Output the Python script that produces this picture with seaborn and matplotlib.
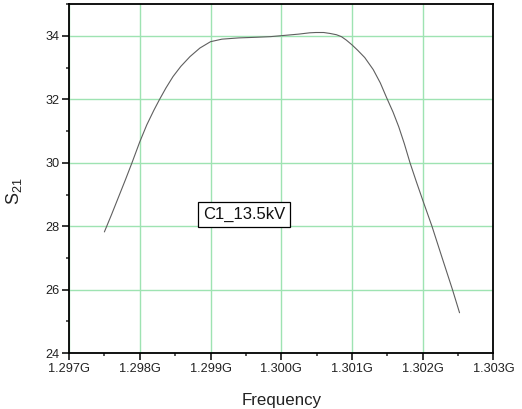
import numpy as np
import pandas as pd
import matplotlib
matplotlib.use("Agg")
import matplotlib.pyplot as plt
from matplotlib.ticker import MultipleLocator, FuncFormatter
import seaborn as sns

# Data (frequency in GHz, S21)
freq = [1.29750, 1.29760, 1.29770, 1.29780, 1.29789, 1.29800, 1.29810, 1.29820,
        1.29828, 1.29837, 1.29847, 1.29858, 1.29871, 1.29885, 1.29900, 1.29916,
        1.29940, 1.29965, 1.29985, 1.30000, 1.30025, 1.30040, 1.30049, 1.30060,
        1.30069, 1.30078, 1.30085, 1.30092, 1.30100, 1.30108, 1.30118, 1.30130,
        1.30140, 1.30149, 1.30158, 1.30166, 1.30174, 1.30182, 1.30191, 1.30200,
        1.30213, 1.30227, 1.30242, 1.30252]
s21 = [27.82, 28.36, 28.92, 29.48, 30.00, 30.66, 31.20, 31.66,
       32.00, 32.36, 32.72, 33.04, 33.35, 33.62, 33.82, 33.90,
       33.94, 33.96, 33.98, 34.01, 34.06, 34.10, 34.11, 34.11,
       34.08, 34.04, 33.98, 33.87, 33.72, 33.55, 33.32, 32.94,
       32.52, 32.05, 31.60, 31.14, 30.60, 30.00, 29.40, 28.82,
       28.00, 27.03, 26.00, 25.27]
label_text = "C1_13.5kV"
x_label = "Frequency"
y_label = r"$\mathregular{S_{21}}$"

df = pd.DataFrame({"freq": freq, "s21": s21})

sns.set_style("white")
plt.rcParams["font.family"] = ["Liberation Sans", "DejaVu Sans"]
plt.rcParams["mathtext.fontset"] = "custom"
plt.rcParams["mathtext.rm"] = "Liberation Sans"

fig = plt.figure(figsize=(5.22, 4.09), dpi=100)
ax = fig.add_axes([0.1322, 0.1369, 0.9454 - 0.1322, 0.9895 - 0.1369])

sns.lineplot(data=df, x="freq", y="s21", ax=ax, color="#5f5f5f", linewidth=0.8)

ax.set_xlim(1.297, 1.303)
ax.set_ylim(24, 35)
ax.xaxis.set_major_locator(MultipleLocator(0.001))
ax.xaxis.set_minor_locator(MultipleLocator(0.0005))
ax.yaxis.set_major_locator(MultipleLocator(2))
ax.yaxis.set_minor_locator(MultipleLocator(1))
ax.xaxis.set_major_formatter(FuncFormatter(lambda v, p: f"{v:.3f}G"))

ax.grid(True, which="major", color="#9ee3b2", linewidth=1.0)
ax.set_axisbelow(True)

for s in ax.spines.values():
    s.set_color("black")
    s.set_linewidth(1.3)
    s.set_visible(True)

ax.tick_params(axis="both", which="major", direction="out", length=5, width=1.1,
               labelsize=9.2, colors="black", left=True, bottom=True, pad=2)
ax.tick_params(axis="both", which="minor", direction="out", length=2.5, width=1.1,
               left=True, bottom=True)
ax.tick_params(axis="y", labelcolor="#222222")
ax.tick_params(axis="x", labelcolor="#222222")

ax.set_xlabel(x_label, fontsize=12.2, color="#222222")
ax.set_ylabel(y_label, fontsize=13, color="#222222")
ax.xaxis.set_label_coords(0.5, -0.115)
ax.yaxis.set_label_coords(-0.105, 0.465)

ax.text(1.29947, 28.38, label_text, fontsize=12, ha="center", va="center",
        color="#111111",
        bbox=dict(boxstyle="square,pad=0.3", facecolor="white", edgecolor="black",
                  linewidth=0.9))

fig.savefig("out.png", dpi=100)
